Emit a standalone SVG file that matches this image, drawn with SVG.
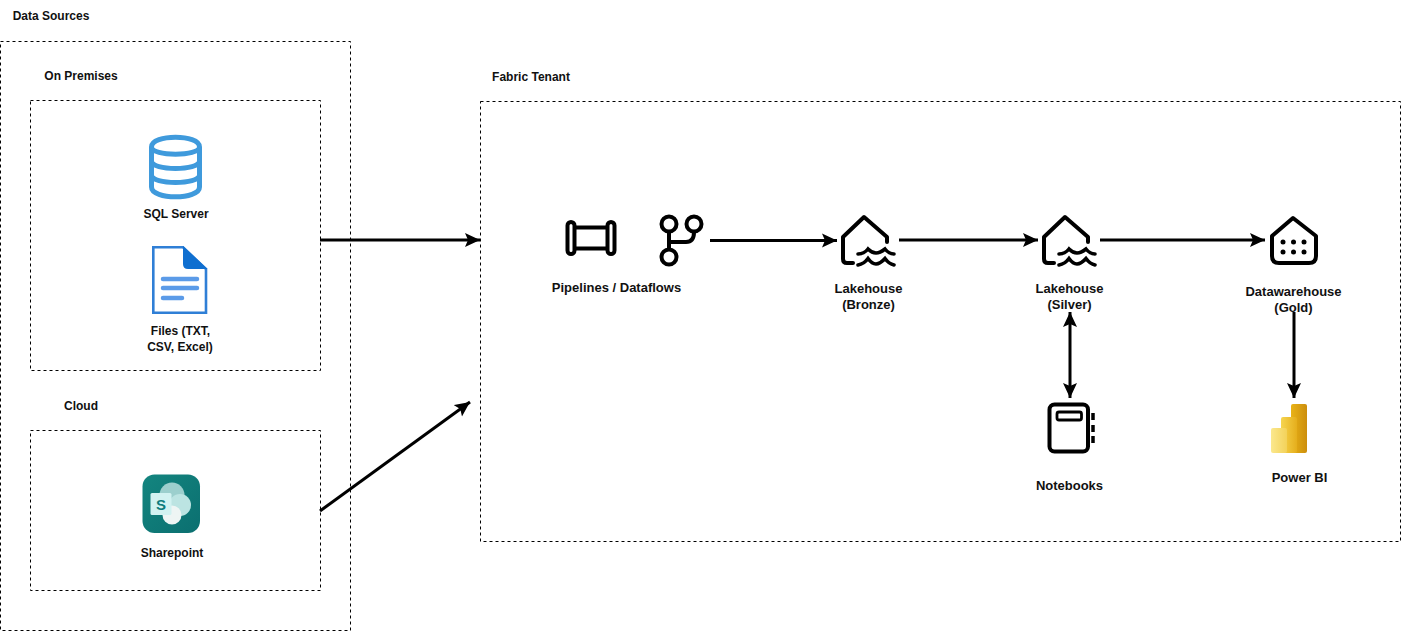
<svg xmlns="http://www.w3.org/2000/svg" width="1401" height="631" viewBox="0 0 1401 631">
<defs>
<marker id="arrow" markerUnits="userSpaceOnUse" markerWidth="17" markerHeight="16" refX="15" refY="7.5" orient="auto-start-reverse"><path d="M0 0.500L15 7.500L0 14.500L3 7.500Z" fill="#000"/></marker>
<linearGradient id="pb1" x1="0" y1="0" x2="1" y2="0"><stop offset="0" stop-color="#e9b317"/><stop offset="1" stop-color="#cc8e0d"/></linearGradient>
<linearGradient id="pb2" x1="0" y1="0" x2="1" y2="0"><stop offset="0" stop-color="#f6d550"/><stop offset="1" stop-color="#e5ae1c"/></linearGradient>
<linearGradient id="pb3" x1="0" y1="0" x2="1" y2="0"><stop offset="0" stop-color="#fbe88e"/><stop offset="1" stop-color="#f3d25a"/></linearGradient>
<linearGradient id="sp" x1="0" y1="0" x2="1" y2="1"><stop offset="0" stop-color="#13857f"/><stop offset="1" stop-color="#0b6f70"/></linearGradient>
</defs>
<style>
text{font-family:"Liberation Sans",Arial,sans-serif;font-size:12px;font-weight:700;fill:#111;text-anchor:middle}
.lg{font-size:13px}
.box{fill:none;stroke:#000;stroke-width:1;stroke-dasharray:3 3}
.c{fill:none;stroke:#000;stroke-width:3;marker-end:url(#arrow)}
.ic{fill:none;stroke:#000;stroke-width:4;stroke-linecap:round;stroke-linejoin:round}
.wv{fill:none;stroke:#000;stroke-width:3.600;stroke-linecap:round;stroke-linejoin:miter}
.db{fill:none;stroke:#3f9adc;stroke-width:5;stroke-linejoin:round}
</style>
<rect width="1401" height="631" fill="#fff"/>
<g id="data-sources"><rect class="box" x="0.5" y="41.5" width="350" height="589"/><text x="51" y="20">Data Sources</text></g>
<g id="on-premises"><rect class="box" x="30.5" y="100.5" width="290" height="270"/><text x="81" y="80">On Premises</text></g>
<g id="cloud"><rect class="box" x="30.5" y="430.5" width="290" height="160"/><text x="81" y="410">Cloud</text></g>
<g id="fabric-tenant"><rect class="box" x="480.5" y="101.5" width="920" height="440"/><text x="531" y="81">Fabric Tenant</text></g>
<g id="sql-server">
<path class="db" d="M151.500 147C151.500 134 199.500 134 199.500 147V187C199.500 200 151.500 200 151.500 187ZM151.500 147C151.500 156.500 199.500 156.500 199.500 147M151.500 161C151.500 171 199.500 171 199.500 161M151.500 175C151.500 185 199.500 185 199.500 175"/>
<text x="176" y="218">SQL Server</text></g>
<g id="files">
<path d="M153.300 247.300H183L206 269V312.700H153.300Z" fill="#fff" stroke="#2f7fd6" stroke-width="2.600"/>
<path d="M183 246L207.500 269H188Q183 269 183 264Z" fill="#0f6fd0"/>
<path d="M163 279H197M163 288H197M163 298H182" stroke="#5b9be8" stroke-width="4.500" stroke-linecap="round" fill="none"/>
<text x="180.500" y="335">Files (TXT,</text><text x="180" y="351">CSV, Excel)</text></g>
<g id="sharepoint">
<rect x="142.500" y="474.500" width="57.500" height="58.500" rx="12" fill="url(#sp)"/>
<circle cx="172" cy="495" r="12.500" fill="#9ccfcd"/><circle cx="180" cy="505" r="11" fill="#bce4e2"/><circle cx="172" cy="515" r="9.500" fill="#eef5f4"/>
<rect x="150.500" y="493" width="21" height="22" rx="1.500" fill="#d2f2f1"/>
<text x="161" y="509.500" style="fill:#0f7d7d;font-size:15px">S</text>
<text x="172" y="557">Sharepoint</text></g>
<g id="pipelines">
<rect class="ic" x="567.500" y="222" width="7" height="32" rx="3.500"/><rect class="ic" x="607.500" y="222" width="7" height="32" rx="3.500"/>
<path class="ic" d="M575 227.500H607M575 248.500H607"/>
<circle class="ic" cx="669" cy="224" r="7.500"/><circle class="ic" cx="694" cy="224" r="7.500"/><circle class="ic" cx="669" cy="257" r="7.500"/>
<path class="ic" d="M669 232V249M669 242H686Q694 242 694 232"/>
<text class="lg" x="616.500" y="292">Pipelines / Dataflows</text></g>
<g id="lakehouse-bronze">
<path class="ic" d="M853 263H847Q843 263 843 259V237L864 217L887 237V242"/>
<path class="wv" d="M858 254Q864 254 868 249Q872 253 876 253Q880 253 885 249Q889 254 894 254M858 265Q864 264 868 258.500Q872 264 876 264Q880 264 885 258.500Q889 264 894 265"/>
<text class="lg" x="868.500" y="293">Lakehouse</text><text class="lg" x="868.500" y="309">(Bronze)</text></g>
<g id="lakehouse-silver">
<path class="ic" d="M1054 263H1048Q1044 263 1044 259V237L1065 217L1088 237V242"/>
<path class="wv" d="M1059 254Q1065 254 1069 249Q1073 253 1077 253Q1081 253 1086 249Q1090 254 1095 254M1059 265Q1065 264 1069 258.500Q1073 264 1077 264Q1081 264 1086 258.500Q1090 264 1095 265"/>
<text class="lg" x="1069.500" y="293">Lakehouse</text><text class="lg" x="1069.500" y="309">(Silver)</text></g>
<g id="datawarehouse">
<path class="ic" d="M1272 236L1293 218L1316 236V256Q1316 263 1309 263H1279Q1272 263 1272 256Z"/>
<g fill="#000"><circle cx="1283" cy="242" r="2.500"/><circle cx="1293.500" cy="242" r="2.500"/><circle cx="1304" cy="242" r="2.500"/><circle cx="1283" cy="252" r="2.500"/><circle cx="1293.500" cy="252" r="2.500"/><circle cx="1304" cy="252" r="2.500"/></g>
<text class="lg" x="1293.500" y="296">Datawarehouse</text><text class="lg" x="1293.500" y="312">(Gold)</text></g>
<g id="notebooks">
<rect class="ic" x="1049.500" y="404.500" width="38.500" height="47" rx="5"/><rect x="1057" y="412" width="24.500" height="8" rx="2" fill="none" stroke="#000" stroke-width="2.800"/>
<path d="M1093 413V420M1093 425V432M1093 436V443" stroke="#000" stroke-width="3.500" fill="none"/>
<text class="lg" x="1069.500" y="490">Notebooks</text></g>
<g id="power-bi">
<rect x="1291" y="404" width="16" height="49" rx="2" fill="url(#pb1)"/><rect x="1281" y="417" width="16" height="36" rx="2" fill="url(#pb2)"/><rect x="1271" y="428" width="16" height="25" rx="2" fill="url(#pb3)"/>
<text class="lg" x="1299.500" y="482">Power BI</text></g>
<g id="connectors">
<path class="c" d="M320 240H480"/>
<path class="c" d="M320 511L470 402"/>
<path class="c" d="M710 240.500H837"/>
<path class="c" d="M899 240H1038"/>
<path class="c" d="M1100 240H1265"/>
<path class="c" style="marker-start:url(#arrow)" d="M1070 312V398"/>
<path class="c" d="M1294 312V398"/>
</g>
</svg>
